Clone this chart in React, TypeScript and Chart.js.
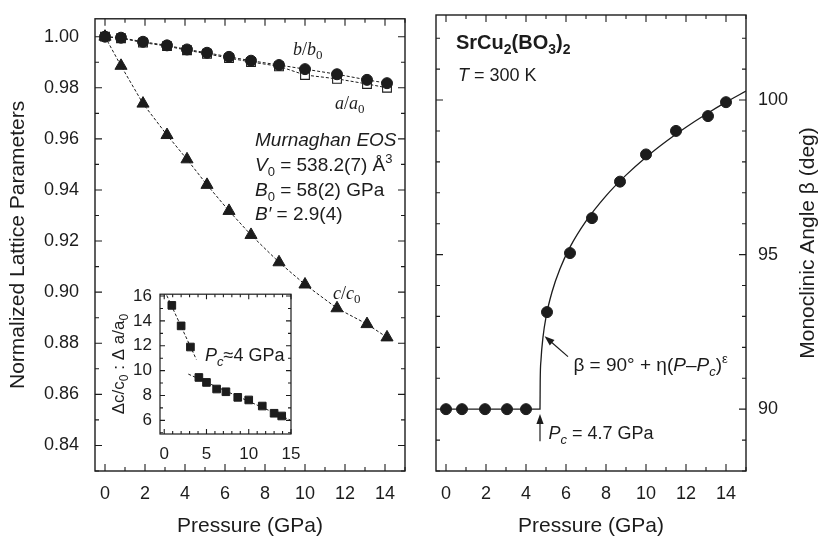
import { useEffect, useRef } from 'react';
import { Chart, registerables } from 'chart.js';

Chart.register(...registerables);

// ---------- data ----------
const PRESSURE = [0, 0.8, 1.9, 3.1, 4.1, 5.1, 6.2, 7.3, 8.7, 10.0, 11.6, 13.1, 14.1];
const B_B0 = [1.0, 0.9996, 0.998, 0.9966, 0.995, 0.9937, 0.9921, 0.9906, 0.9889, 0.9873, 0.9853, 0.9831, 0.9818];
const A_A0 = [1.0, 0.9994, 0.9977, 0.9963, 0.9947, 0.9933, 0.9916, 0.9901, 0.9884, 0.985, 0.9835, 0.9815, 0.98];
const C_C0 = [1.0, 0.9886, 0.9738, 0.9615, 0.952, 0.942, 0.9318, 0.9224, 0.9117, 0.903, 0.8937, 0.8875, 0.8823];

const BETA_P = [0, 0.8, 1.95, 3.05, 4.0, 5.05, 6.2, 7.3, 8.7, 10.0, 11.5, 13.1, 14.0];
const BETA = [90, 90, 90, 90, 90, 93.14, 95.05, 96.18, 97.36, 98.24, 99.0, 99.48, 99.93];
const BETA_FIT_P = [0, 4.7, 4.71, 4.75, 4.85, 5.0, 5.3, 5.7, 6.2, 7, 8, 9, 10, 11, 12, 13, 14, 15];
const BETA_FIT = [90, 90, 90.9, 91.59, 92.33, 92.98, 93.79, 94.54, 95.24, 96.08, 96.9, 97.57, 98.15, 98.66, 99.12, 99.54, 99.93, 100.29];

const INSET_P = [0.9, 2.0, 3.1, 4.1, 5.0, 6.2, 7.3, 8.7, 10.0, 11.6, 13.0, 13.9];
const INSET_RATIO = [15.25, 13.6, 11.9, 9.45, 9.05, 8.52, 8.3, 7.85, 7.64, 7.15, 6.57, 6.35];
const INSET_FIT1_P = [0.3, 3.8];
const INSET_FIT1 = [16.05, 10.9];
const INSET_FIT2_P = [2.85, 14.9];
const INSET_FIT2 = [9.72, 6.03];

const X_TICKS = [0, 2, 4, 6, 8, 10, 12, 14];
const LEFT_Y_TICKS = [0.84, 0.86, 0.88, 0.9, 0.92, 0.94, 0.96, 0.98, 1.0];
const RIGHT_Y_TICKS = [90, 95, 100];
const INSET_X_TICKS = [0, 5, 10, 15];
const INSET_Y_TICKS = [6, 8, 10, 12, 14, 16];

// ---------- styling helpers ----------
const SANS = '"Liberation Sans", Arial, Helvetica, sans-serif';
const SERIF = '"Liberation Serif", "Times New Roman", serif';
const INK = '#1c1c1c';

type Seg = { t: string; f: string; dy?: number };

function drawRich(ctx: CanvasRenderingContext2D, x: number, y: number, segs: Seg[], align: 'left' | 'center' = 'left') {
  let w = 0;
  segs.forEach((s) => {
    ctx.font = s.f;
    w += ctx.measureText(s.t).width;
  });
  let cx = align === 'center' ? x - w / 2 : x;
  ctx.textAlign = 'left';
  segs.forEach((s) => {
    ctx.font = s.f;
    ctx.fillText(s.t, cx, y + (s.dy || 0));
    cx += ctx.measureText(s.t).width;
  });
}

function stepValues(min: number, max: number, step: number) {
  const out: number[] = [];
  for (let v = Math.ceil(min / step - 1e-9) * step; v <= max + 1e-9; v += step) out.push(+v.toFixed(6));
  return out;
}

function framePlugin(cfg: { xStep: number; yStep: number; xMajor: number[]; yMajor: number[]; major: number; minor: number; lw: number }) {
  return {
    id: 'frame',
    afterDatasetsDraw(chart: any) {
      const { ctx, chartArea: a, scales } = chart;
      const xs = scales.x;
      const ys = scales.y;
      ctx.save();
      ctx.strokeStyle = INK;
      ctx.lineWidth = 1.1;
      ctx.beginPath();
      stepValues(xs.min, xs.max, cfg.xStep).forEach((v) => {
        const px = xs.getPixelForValue(v);
        const len = cfg.xMajor.some((m) => Math.abs(m - v) < 1e-6) ? cfg.major : cfg.minor;
        ctx.moveTo(px, a.bottom);
        ctx.lineTo(px, a.bottom - len);
        ctx.moveTo(px, a.top);
        ctx.lineTo(px, a.top + len);
      });
      stepValues(ys.min, ys.max, cfg.yStep).forEach((v) => {
        const py = ys.getPixelForValue(v);
        const len = cfg.yMajor.some((m) => Math.abs(m - v) < 1e-6) ? cfg.major : cfg.minor;
        ctx.moveTo(a.left, py);
        ctx.lineTo(a.left + len, py);
        ctx.moveTo(a.right, py);
        ctx.lineTo(a.right - len, py);
      });
      ctx.stroke();
      ctx.lineWidth = cfg.lw;
      ctx.strokeRect(a.left, a.top, a.right - a.left, a.bottom - a.top);
      ctx.restore();
    },
  };
}

function arrow(ctx: CanvasRenderingContext2D, x1: number, y1: number, x2: number, y2: number) {
  const ang = Math.atan2(y2 - y1, x2 - x1);
  const L = 10;
  const W = 3.6;
  ctx.beginPath();
  ctx.moveTo(x1, y1);
  ctx.lineTo(x2 - Math.cos(ang) * L * 0.8, y2 - Math.sin(ang) * L * 0.8);
  ctx.stroke();
  ctx.beginPath();
  ctx.moveTo(x2, y2);
  ctx.lineTo(x2 - Math.cos(ang) * L - Math.sin(ang) * W, y2 - Math.sin(ang) * L + Math.cos(ang) * W);
  ctx.lineTo(x2 - Math.cos(ang) * L + Math.sin(ang) * W, y2 - Math.sin(ang) * L - Math.cos(ang) * W);
  ctx.closePath();
  ctx.fill();
}

const pts = (xs: number[], ys: number[]) => xs.map((x, i) => ({ x, y: ys[i] }));

function axisBase(min: number, max: number, ticks: number[], fmt: (v: number) => string, size: number, padding: number) {
  return {
    type: 'linear' as const,
    min,
    max,
    grid: { display: false },
    border: { display: false },
    afterBuildTicks: (s: any) => {
      s.ticks = ticks.map((v) => ({ value: v }));
    },
    ticks: {
      autoSkip: false,
      maxRotation: 0,
      color: INK,
      padding,
      font: { family: SANS, size },
      callback: (v: any) => fmt(Number(v)),
    },
  };
}

// ---------- configs ----------
function leftConfig(): any {
  const italic19 = `italic 19px ${SANS}`;
  const reg19 = `19px ${SANS}`;
  const sub13 = `13px ${SANS}`;
  const textPlugin = {
    id: 'leftText',
    afterDatasetsDraw(chart: any) {
      const { ctx, scales } = chart;
      const px = (v: number) => scales.x.getPixelForValue(v);
      const py = (v: number) => scales.y.getPixelForValue(v);
      ctx.save();
      ctx.fillStyle = INK;
      ctx.textBaseline = 'alphabetic';
      const si = `italic 18px ${SERIF}`;
      const sr = `18px ${SERIF}`;
      const ss = `13px ${SERIF}`;
      drawRich(ctx, px(9.4), py(0.993), [{ t: 'b', f: si }, { t: '/', f: sr }, { t: 'b', f: si }, { t: '0', f: ss, dy: 4 }]);
      drawRich(ctx, px(11.5), py(0.9717), [{ t: 'a', f: si }, { t: '/', f: sr }, { t: 'a', f: si }, { t: '0', f: ss, dy: 4 }]);
      drawRich(ctx, px(11.4), py(0.8973), [{ t: 'c', f: si }, { t: '/', f: sr }, { t: 'c', f: si }, { t: '0', f: ss, dy: 4 }]);
      drawRich(ctx, px(7.5), py(0.9572), [{ t: 'Murnaghan EOS', f: italic19 }]);
      drawRich(ctx, px(7.5), py(0.9475), [
        { t: 'V', f: italic19 },
        { t: '0', f: sub13, dy: 5 },
        { t: ' = 538.2(7) Å', f: reg19 },
        { t: '3', f: sub13, dy: -8 },
      ]);
      drawRich(ctx, px(7.5), py(0.9378), [
        { t: 'B', f: italic19 },
        { t: '0', f: sub13, dy: 5 },
        { t: ' = 58(2) GPa', f: reg19 },
      ]);
      drawRich(ctx, px(7.5), py(0.9281), [
        { t: 'B′', f: italic19 },
        { t: ' = 2.9(4)', f: reg19 },
      ]);
      ctx.restore();
    },
  };
  return {
    type: 'scatter',
    data: {
      datasets: [
        {
          data: pts(PRESSURE, B_B0),
          showLine: true,
          borderColor: INK,
          borderWidth: 1,
          borderDash: [3, 2],
          pointStyle: 'circle',
          pointRadius: 5.5,
          pointBackgroundColor: INK,
          pointBorderColor: INK,
          pointBorderWidth: 1,
        },
        {
          data: pts(PRESSURE, A_A0),
          showLine: true,
          borderColor: INK,
          borderWidth: 1,
          borderDash: [3, 2],
          pointStyle: 'rect',
          pointRadius: 6.2,
          pointBackgroundColor: '#ffffff',
          pointBorderColor: INK,
          pointBorderWidth: 1.1,
        },
        {
          data: pts(PRESSURE, C_C0),
          showLine: true,
          borderColor: INK,
          borderWidth: 1,
          borderDash: [3, 2],
          pointStyle: 'triangle',
          pointRadius: 7,
          pointBackgroundColor: INK,
          pointBorderColor: INK,
          pointBorderWidth: 1,
        },
      ],
    },
    options: {
      responsive: false,
      animation: false,
      events: [],
      layout: { padding: { top: 15, right: 15, left: 0, bottom: 0 } },
      plugins: { legend: { display: false }, tooltip: { enabled: false } },
      scales: {
        x: {
          ...axisBase(-0.5, 15, X_TICKS, (v) => String(v), 18, 4),
          afterFit: (s: any) => {
            s.height = 69;
          },
          title: { display: true, text: 'Pressure (GPa)', color: INK, font: { family: SANS, size: 21 }, padding: { top: 0, bottom: 1 } },
        },
        y: {
          ...axisBase(0.83, 1.007, LEFT_Y_TICKS, (v) => v.toFixed(2), 18, 8),
          afterFit: (s: any) => {
            s.width = 95;
          },
          title: {
            display: true,
            text: 'Normalized Lattice Parameters',
            color: INK,
            font: { family: SANS, size: 21 },
            padding: { top: 6, bottom: 6 },
          },
        },
      },
    },
    plugins: [framePlugin({ xStep: 1, yStep: 0.01, xMajor: X_TICKS, yMajor: LEFT_Y_TICKS, major: 7, minor: 4, lw: 1.4 }), textPlugin],
  };
}

function rightConfig(): any {
  const textPlugin = {
    id: 'rightText',
    afterDatasetsDraw(chart: any) {
      const { ctx, scales, chartArea } = chart;
      const px = (v: number) => scales.x.getPixelForValue(v);
      const py = (v: number) => scales.y.getPixelForValue(v);
      ctx.save();
      ctx.fillStyle = INK;
      ctx.strokeStyle = INK;
      ctx.lineWidth = 1.2;
      ctx.textBaseline = 'alphabetic';
      const b20 = `bold 20px ${SANS}`;
      const b14 = `bold 14px ${SANS}`;
      drawRich(ctx, px(0.5), py(101.65), [
        { t: 'SrCu', f: b20 },
        { t: '2', f: b14, dy: 5 },
        { t: '(BO', f: b20 },
        { t: '3', f: b14, dy: 5 },
        { t: ')', f: b20 },
        { t: '2', f: b14, dy: 5 },
      ]);
      const i18 = `italic 18px ${SANS}`;
      const r18 = `18px ${SANS}`;
      const i19 = `italic 19px ${SANS}`;
      const r19 = `19px ${SANS}`;
      const i13 = `italic 13px ${SANS}`;
      drawRich(ctx, px(0.6), py(100.6), [
        { t: 'T', f: i18 },
        { t: ' = 300 K', f: r18 },
      ]);
      drawRich(ctx, px(6.37), py(91.23), [
        { t: 'β = 90° + η(', f: r19 },
        { t: 'P', f: i19 },
        { t: '–', f: r19 },
        { t: 'P', f: i19 },
        { t: 'c', f: i13, dy: 5 },
        { t: ')', f: r19 },
        { t: 'ε', f: `13px ${SANS}`, dy: -8 },
      ]);
      drawRich(ctx, px(5.12), py(89.03), [
        { t: 'P', f: i18 },
        { t: 'c', f: i13, dy: 5 },
        { t: ' = 4.7 GPa', f: r18 },
      ]);
      arrow(ctx, px(6.1), py(91.7), px(4.93), py(92.36));
      arrow(ctx, px(4.7), py(88.96), px(4.7), py(89.84));
      // right axis title, reading bottom to top
      ctx.translate(chart.width - 12, (chartArea.top + chartArea.bottom) / 2);
      ctx.rotate(-Math.PI / 2);
      ctx.textAlign = 'center';
      ctx.textBaseline = 'middle';
      ctx.font = `21px ${SANS}`;
      ctx.fillText('Monoclinic Angle β (deg)', 0, 0);
      ctx.restore();
    },
  };
  return {
    type: 'scatter',
    data: {
      datasets: [
        {
          data: pts(BETA_P, BETA),
          showLine: false,
          pointStyle: 'circle',
          pointRadius: 5.5,
          pointBackgroundColor: INK,
          pointBorderColor: INK,
          pointBorderWidth: 1,
        },
        {
          data: pts(BETA_FIT_P, BETA_FIT),
          showLine: true,
          borderColor: INK,
          borderWidth: 1.3,
          pointRadius: 0,
          cubicInterpolationMode: 'monotone',
        },
      ],
    },
    options: {
      responsive: false,
      animation: false,
      events: [],
      layout: { padding: { top: 15, right: 0, left: 16, bottom: 0 } },
      plugins: { legend: { display: false }, tooltip: { enabled: false } },
      scales: {
        x: {
          ...axisBase(-0.5, 15, X_TICKS, (v) => String(v), 18, 4),
          afterFit: (s: any) => {
            s.height = 69;
          },
          title: { display: true, text: 'Pressure (GPa)', color: INK, font: { family: SANS, size: 21 }, padding: { top: 0, bottom: 1 } },
        },
        y: {
          ...axisBase(88, 102.75, RIGHT_Y_TICKS, (v) => String(v), 18, 4),
          position: 'right',
          afterFit: (s: any) => {
            s.width = 74;
          },
        },
      },
    },
    plugins: [framePlugin({ xStep: 1, yStep: 1, xMajor: X_TICKS, yMajor: RIGHT_Y_TICKS, major: 7, minor: 4, lw: 1.4 }), textPlugin],
  };
}

function insetConfig(): any {
  const textPlugin = {
    id: 'insetText',
    afterDatasetsDraw(chart: any) {
      const { ctx, scales, chartArea } = chart;
      const px = (v: number) => scales.x.getPixelForValue(v);
      const py = (v: number) => scales.y.getPixelForValue(v);
      ctx.save();
      ctx.fillStyle = INK;
      ctx.textBaseline = 'alphabetic';
      drawRich(ctx, px(4.83), py(10.76), [
        { t: 'P', f: `italic 18px ${SANS}` },
        { t: 'c', f: `italic 13px ${SANS}`, dy: 5 },
        { t: '≈4 GPa', f: `18px ${SANS}` },
      ]);
      ctx.translate(24, (chartArea.top + chartArea.bottom) / 2);
      ctx.rotate(-Math.PI / 2);
      drawRich(
        ctx,
        0,
        0,
        [
          { t: 'Δc/c', f: `17px ${SANS}` },
          { t: '0', f: `12px ${SANS}`, dy: 4 },
          { t: ' : Δ a/a', f: `17px ${SANS}` },
          { t: '0', f: `12px ${SANS}`, dy: 4 },
        ],
        'center'
      );
      ctx.restore();
    },
  };
  return {
    type: 'scatter',
    data: {
      datasets: [
        {
          data: pts(INSET_P, INSET_RATIO),
          showLine: false,
          pointStyle: 'rect',
          pointRadius: 5.4,
          pointBackgroundColor: INK,
          pointBorderColor: INK,
          pointBorderWidth: 1,
        },
        {
          data: pts(INSET_FIT1_P, INSET_FIT1),
          showLine: true,
          borderColor: INK,
          borderWidth: 1,
          borderDash: [3, 2],
          pointRadius: 0,
        },
        {
          data: pts(INSET_FIT2_P, INSET_FIT2),
          showLine: true,
          borderColor: INK,
          borderWidth: 1,
          borderDash: [3, 2],
          pointRadius: 0,
        },
      ],
    },
    options: {
      responsive: false,
      animation: false,
      events: [],
      layout: { padding: { top: 10, right: 12, left: 0, bottom: 0 } },
      plugins: { legend: { display: false }, tooltip: { enabled: false } },
      scales: {
        x: {
          ...axisBase(-0.5, 15, INSET_X_TICKS, (v) => String(v), 17, 2),
          afterFit: (s: any) => {
            s.height = 28;
          },
        },
        y: {
          ...axisBase(4.9, 16.15, INSET_Y_TICKS, (v) => String(v), 17, 0),
          afterFit: (s: any) => {
            s.width = 60;
          },
        },
      },
    },
    plugins: [framePlugin({ xStep: 1, yStep: 1, xMajor: INSET_X_TICKS, yMajor: INSET_Y_TICKS, major: 5, minor: 3, lw: 1.2 }), textPlugin],
  };
}

export default function App() {
  const leftRef = useRef<HTMLCanvasElement>(null);
  const rightRef = useRef<HTMLCanvasElement>(null);
  const insetRef = useRef<HTMLCanvasElement>(null);

  useEffect(() => {
    const charts = [
      new Chart(leftRef.current as HTMLCanvasElement, leftConfig()),
      new Chart(rightRef.current as HTMLCanvasElement, rightConfig()),
      new Chart(insetRef.current as HTMLCanvasElement, insetConfig()),
    ];
    return () => charts.forEach((c) => c.destroy());
  }, []);

  return (
    <div style={{ position: 'fixed', left: 0, top: 0, width: 820, height: 540, background: '#ffffff', overflow: 'hidden' }}>
      <canvas ref={leftRef} width={420} height={540} style={{ position: 'absolute', left: 0, top: 0, width: 420, height: 540 }} />
      <canvas ref={rightRef} width={400} height={540} style={{ position: 'absolute', left: 420, top: 0, width: 400, height: 540 }} />
      <canvas ref={insetRef} width={203} height={178} style={{ position: 'absolute', left: 100, top: 284, width: 203, height: 178 }} />
    </div>
  );
}
